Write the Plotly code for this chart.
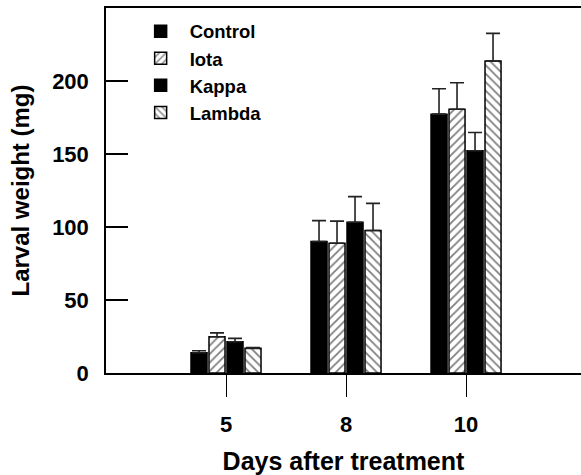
import plotly.graph_objects as go

days = ["5", "8", "10"]
series_names = ["Control", "Iota", "Kappa", "Lambda"]
control = [13.9, 90.1, 177.3]
iota = [24.8, 88.9, 180.7]
kappa = [21.4, 103.3, 152.2]
lambda_ = [16.9, 97.6, 213.7]
control_err = [1.3, 14.3, 17.4]
iota_err = [2.7, 15.1, 18.1]
kappa_err = [2.3, 17.5, 12.5]
lambda_err = [0.6, 18.6, 18.9]

values = [control, iota, kappa, lambda_]
errors = [control_err, iota_err, kappa_err, lambda_err]
patterns = ["", "/", "", "\\"]
colors = ["black", "white", "black", "white"]

FONT = "Liberation Sans, Arial, Helvetica, sans-serif"

fig = go.Figure()
for name, vals, errs, pat, col in zip(series_names, values, errors, patterns, colors):
    fig.add_trace(go.Bar(
        x=days, y=vals, name=name,
        marker=dict(
            color=col,
            line=dict(color="black", width=1.5),
            pattern=dict(shape=pat, fgcolor="black", bgcolor="white", size=6, solidity=0.3) if pat else None,
        ),
        error_y=dict(type="data", array=errs, arrayminus=[0] * len(errs), symmetric=False,
                     color="#222", thickness=1.6, width=7),
    ))

fig.update_layout(
    width=581, height=475,
    margin=dict(l=106, r=0, t=8, b=102),
    plot_bgcolor="white", paper_bgcolor="white",
    barmode="group", bargap=0.4, bargroupgap=0.11,
    font=dict(family=FONT, color="black"),
    legend=dict(
        x=0.054, y=0.987, xanchor="left", yanchor="top",
        font=dict(family=FONT, size=18.5, weight="bold", color="black"),
        bgcolor="rgba(0,0,0,0)", itemwidth=48, tracegroupgap=0,
    ),
    xaxis=dict(
        type="category", range=[-1, 2.958], automargin=False,
        showline=True, linecolor="black", linewidth=1.5, mirror=True,
        ticks="outside", ticklen=22, tickwidth=1.2, tickcolor="black",
        tickfont=dict(family=FONT, size=22, weight="bold"),
        ticklabelstandoff=9,
        title=dict(text="Days after treatment", font=dict(family=FONT, size=25, weight="bold"), standoff=18),
        showgrid=False, zeroline=False,
    ),
    yaxis=dict(
        range=[0, 250], tickvals=[0, 50, 100, 150, 200], automargin=False,
        showline=True, linecolor="black", linewidth=1.5,
        ticks="inside", ticklen=22, tickwidth=1.5, tickcolor="black",
        tickfont=dict(family=FONT, size=22, weight="bold"),
        ticklabelstandoff=11,
        title=dict(text="Larval weight (mg)", font=dict(family=FONT, size=24, weight="bold"), standoff=16),
        showgrid=False, zeroline=False,
    ),
)

fig.write_html(
    "out.html",
    config={"displayModeBar": False},
    post_script="document.body.style.margin='0px';document.body.style.overflow='hidden';",
)
